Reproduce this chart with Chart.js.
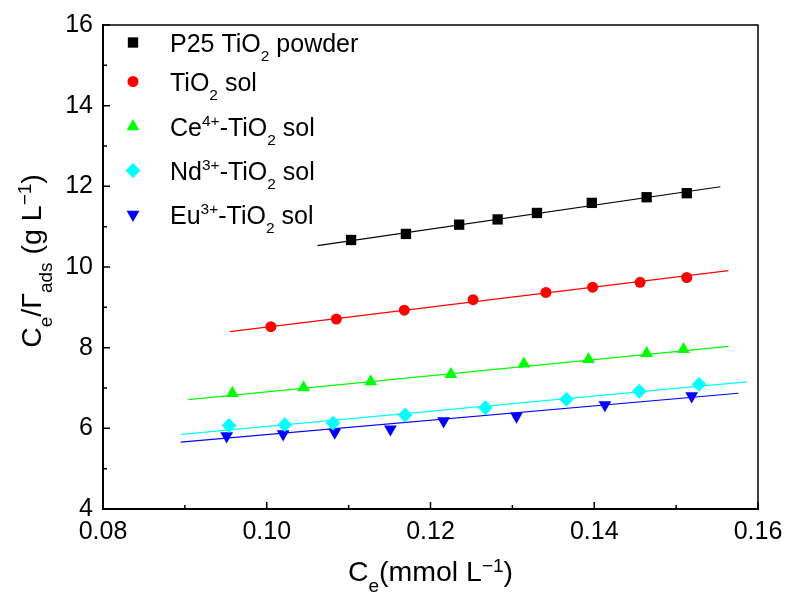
<!DOCTYPE html>
<html>
<head>
<meta charset="utf-8">
<script src="https://cdn.jsdelivr.net/npm/chart.js@4.4.1/dist/chart.umd.min.js"></script>
<style>
  html, body { margin: 0; padding: 0; background: #fff; }
</style>
</head>
<body>
<canvas id="chart" width="791" height="602"></canvas>
<script>
const FONT = "Arial, 'Liberation Sans', sans-serif";

// series names, _{} = subscript, ^{} = superscript
const seriesNames = [
  "P25 TiO_{2} powder",
  "TiO_{2} sol",
  "Ce^{4+}-TiO_{2} sol",
  "Nd^{3+}-TiO_{2} sol",
  "Eu^{3+}-TiO_{2} sol",
];
const seriesColors = ["#000000", "#ff0000", "#00ff00", "#00ffff", "#0000ff"];
const seriesMarkers = ["rect", "circle", "triangle", "rectRot", "triangle"];

// measured points: Ce (mmol/L) and Ce/Γads (g/L)
const ceP25 = [0.1103, 0.1170, 0.1235, 0.1282, 0.1330, 0.1397, 0.1464, 0.1513];
const qP25 = [10.67, 10.82, 11.05, 11.18, 11.34, 11.59, 11.73, 11.83];
const ceSol = [0.1005, 0.1085, 0.1168, 0.1252, 0.1341, 0.1398, 0.1456, 0.1513];
const qSol = [8.52, 8.71, 8.93, 9.19, 9.37, 9.50, 9.62, 9.74];
const ceCe = [0.0958, 0.1045, 0.1127, 0.1225, 0.1314, 0.1393, 0.1464, 0.1509];
const qCe = [6.87, 7.01, 7.16, 7.34, 7.60, 7.71, 7.86, 7.96];
const ceNd = [0.0954, 0.1022, 0.1081, 0.1169, 0.1267, 0.1366, 0.1455, 0.1528];
const qNd = [6.07, 6.09, 6.13, 6.33, 6.51, 6.72, 6.92, 7.09];
const ceEu = [0.0951, 0.1020, 0.1083, 0.1151, 0.1216, 0.1305, 0.1413, 0.1519];
const qEu = [5.81, 5.86, 5.90, 5.98, 6.18, 6.30, 6.58, 6.80];

// linear fit end points
const fitCe = [[0.1062, 0.1554], [0.0955, 0.1564], [0.0904, 0.1564], [0.0896, 0.1586], [0.0895, 0.1576]];
const fitQ = [[10.53, 11.99], [8.40, 9.91], [6.71, 8.03], [5.85, 7.15], [5.66, 6.87]];

const xTicks = [0.08, 0.10, 0.12, 0.14, 0.16];
const yTicks = [4, 6, 8, 10, 12, 14, 16];

const xTitle = "C_{e}(mmol L^{\u22121})";
const yTitle = "C_{e}/\u0393_{ads} (g L^{\u22121})";

const allCe = [ceP25, ceSol, ceCe, ceNd, ceEu];
const allQ = [qP25, qSol, qCe, qNd, qEu];

const plainName = s => s.replace(/[_^]\{([^}]*)\}/g, "$1");

const parseRich = s => {
  const parts = [];
  const re = /([_^])\{([^}]*)\}|([^_^]+)/g;
  let m;
  while ((m = re.exec(s))) {
    if (m[3]) parts.push({ t: m[3] });
    else parts.push({ t: m[2], s: m[1] === "_" ? "sub" : "sup" });
  }
  return parts;
};

// draws text with sub/superscripts
function drawRich(ctx, str, x, y, size, small, subDy, supDy, align) {
  const parts = parseRich(str);
  const widths = parts.map(p => {
    ctx.font = (p.s ? small : size) + "px " + FONT;
    return ctx.measureText(p.t).width;
  });
  const total = widths.reduce((a, b) => a + b, 0);
  let cx = align === "center" ? x - total / 2 : x;
  ctx.textAlign = "left";
  ctx.textBaseline = "alphabetic";
  parts.forEach((p, i) => {
    ctx.font = (p.s ? small : size) + "px " + FONT;
    const dy = p.s === "sub" ? subDy : p.s === "sup" ? supDy : 0;
    ctx.fillText(p.t, cx, y + dy);
    cx += widths[i];
  });
}

const markerRadius = m => (m === "circle" ? 5.5 : m === "rect" ? 7.3 : 7.4);

const datasets = [];
seriesNames.forEach((name, i) => {
  datasets.push({
    label: plainName(name),
    data: allCe[i].map((v, j) => ({ x: v, y: allQ[i][j] })),
    showLine: false,
    pointStyle: seriesMarkers[i],
    pointRotation: i === 4 ? 180 : 0,
    pointRadius: markerRadius(seriesMarkers[i]),
    pointBackgroundColor: seriesColors[i],
    pointBorderWidth: 0,
    order: 1,
  });
  datasets.push({
    label: plainName(name) + " fit",
    data: fitCe[i].map((v, j) => ({ x: v, y: fitQ[i][j] })),
    showLine: true,
    borderColor: seriesColors[i],
    borderWidth: 1.2,
    pointRadius: 0,
    order: 2,
  });
});

const legendRows = [52, 91, 136, 180, 224];

const decorations = {
  id: "decorations",
  afterDraw(chart) {
    const { ctx, chartArea: a, scales: { x, y } } = chart;
    ctx.save();
    ctx.strokeStyle = "#000";
    ctx.fillStyle = "#000";

    // top and right frame
    ctx.lineWidth = 1.5;
    ctx.beginPath();
    ctx.moveTo(a.left, a.top);
    ctx.lineTo(a.right, a.top);
    ctx.lineTo(a.right, a.bottom);
    ctx.stroke();

    // inward ticks, major and minor
    ctx.lineWidth = 1.5;
    ctx.beginPath();
    xTicks.forEach((v, i) => {
      const px = x.getPixelForValue(v);
      ctx.moveTo(px, a.bottom);
      ctx.lineTo(px, a.bottom - 7);
      if (i < xTicks.length - 1) {
        const mx = x.getPixelForValue((v + xTicks[i + 1]) / 2);
        ctx.moveTo(mx, a.bottom);
        ctx.lineTo(mx, a.bottom - 4);
      }
    });
    yTicks.forEach((v, i) => {
      const py = y.getPixelForValue(v);
      ctx.moveTo(a.left, py);
      ctx.lineTo(a.left + 7, py);
      if (i < yTicks.length - 1) {
        const my = y.getPixelForValue((v + yTicks[i + 1]) / 2);
        ctx.moveTo(a.left, my);
        ctx.lineTo(a.left + 4, my);
      }
    });
    ctx.stroke();

    // axis titles
    ctx.fillStyle = "#000";
    drawRich(ctx, xTitle, (a.left + a.right) / 2, 581, 28.5, 19, 11, -9, "center");
    ctx.save();
    ctx.translate(41, 261);
    ctx.rotate(-Math.PI / 2);
    drawRich(ctx, yTitle, 0, 0, 28.5, 19, 11, -10, "center");
    ctx.restore();

    // legend
    seriesNames.forEach((name, i) => {
      const my = legendRows[i] - 9.5;
      ctx.fillStyle = seriesColors[i];
      ctx.strokeStyle = seriesColors[i];
      Chart.helpers.drawPoint(ctx, {
        pointStyle: seriesMarkers[i],
        radius: markerRadius(seriesMarkers[i]),
        rotation: i === 4 ? 180 : 0,
        borderWidth: 0,
      }, 133, my);
      ctx.fillStyle = "#000";
      drawRich(ctx, name, 170, legendRows[i], 25, 15.5, 9, -10, "left");
    });
    ctx.restore();
  },
};

new Chart(document.getElementById("chart"), {
  type: "scatter",
  data: { datasets },
  plugins: [decorations],
  options: {
    responsive: false,
    animation: false,
    layout: { padding: { top: 22, right: 33, left: 0, bottom: 0 } },
    plugins: { legend: { display: false }, tooltip: { enabled: false } },
    scales: {
      x: {
        type: "linear",
        min: 0.08,
        max: 0.16,
        afterBuildTicks: s => { s.ticks = xTicks.map(v => ({ value: v })); },
        afterFit: s => { s.height = 93; },
        ticks: {
          callback: v => v.toFixed(2),
          color: "#000",
          font: { family: FONT, size: 25 },
          padding: 8,
          maxRotation: 0,
          autoSkip: false,
        },
        grid: { display: false, drawTicks: false },
        border: { display: true, color: "#000", width: 2 },
      },
      y: {
        type: "linear",
        min: 4,
        max: 16,
        afterBuildTicks: s => { s.ticks = yTicks.map(v => ({ value: v })); },
        afterFit: s => { s.width = 103; },
        ticks: {
          callback: v => String(v),
          color: "#000",
          font: { family: FONT, size: 25 },
          padding: 10,
          autoSkip: false,
        },
        grid: { display: false, drawTicks: false },
        border: { display: true, color: "#000", width: 2 },
      },
    },
  },
});
</script>
</body>
</html>
